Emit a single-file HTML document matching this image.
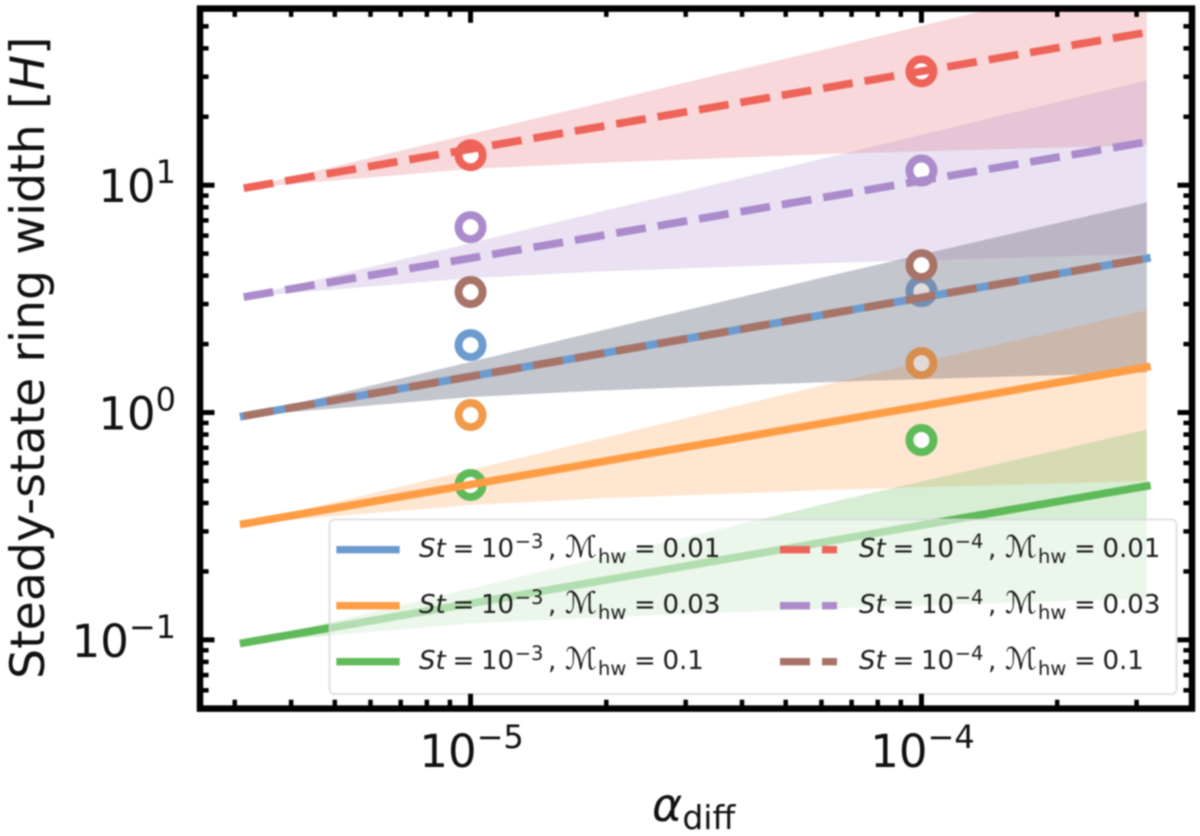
<!DOCTYPE html>
<html>
<head>
<meta charset="utf-8">
<style>
html,body{margin:0;padding:0;background:#fff;width:1200px;height:836px;overflow:hidden}
svg{display:block;font-family:"DejaVu Sans","Liberation Sans",sans-serif;filter:blur(0.8px)}
.leg{font-size:26px;fill:#1a1a1a}
.sm{font-size:19.5px}
.it{font-style:italic}
.cal{font-size:30px;font-style:italic}
</style>
</head>
<body>
<svg id="chart" width="1200" height="836" viewBox="0 0 1200 836" xmlns="http://www.w3.org/2000/svg">
  <defs><clipPath id="plot-clip"><rect x="200" y="8.3" width="992" height="700"/></clipPath></defs>
  <rect width="1200" height="836" fill="#fff"/>
  <g id="collections" clip-path="url(#plot-clip)"></g>
  <g id="lines" clip-path="url(#plot-clip)"></g>
  <g id="legend">
    <rect x="329.5" y="519.5" width="847" height="174.5" rx="5" fill="#fff" fill-opacity="0.53" stroke="#d6d6d6" stroke-opacity="0.7" stroke-width="2"/>

    <line x1="340" y1="549.7" x2="396" y2="549.7" stroke="#6c9bd0" stroke-width="7.3" stroke-linecap="square"/>
    <text class="leg" y="557"><tspan x="419" class="it">St</tspan><tspan x="452.5">=</tspan><tspan x="481">10</tspan><tspan x="514.7" y="548" class="sm">−3</tspan><tspan x="548" y="557">,</tspan><tspan x="565" class="cal">ℳ</tspan><tspan x="598" y="563" class="sm">hw</tspan><tspan x="634" y="557">=</tspan><tspan x="662.5">0.01</tspan></text>

    <line x1="340" y1="605.7" x2="396" y2="605.7" stroke="#ff9d45" stroke-width="7.3" stroke-linecap="square"/>
    <text class="leg" y="613"><tspan x="419" class="it">St</tspan><tspan x="452.5">=</tspan><tspan x="481">10</tspan><tspan x="514.7" y="604" class="sm">−3</tspan><tspan x="548" y="613">,</tspan><tspan x="565" class="cal">ℳ</tspan><tspan x="598" y="619" class="sm">hw</tspan><tspan x="634" y="613">=</tspan><tspan x="662.5">0.03</tspan></text>

    <line x1="340" y1="661.7" x2="396" y2="661.7" stroke="#5fba59" stroke-width="7.3" stroke-linecap="square"/>
    <text class="leg" y="669"><tspan x="419" class="it">St</tspan><tspan x="452.5">=</tspan><tspan x="481">10</tspan><tspan x="514.7" y="660" class="sm">−3</tspan><tspan x="548" y="669">,</tspan><tspan x="565" class="cal">ℳ</tspan><tspan x="598" y="675" class="sm">hw</tspan><tspan x="634" y="669">=</tspan><tspan x="662.5">0.1</tspan></text>

    <line x1="780" y1="549.7" x2="837" y2="549.7" stroke="#ee6459" stroke-width="7.3" stroke-dasharray="30 12"/>
    <text class="leg" y="557"><tspan x="859" class="it">St</tspan><tspan x="892.5">=</tspan><tspan x="921">10</tspan><tspan x="954.7" y="548" class="sm">−4</tspan><tspan x="988" y="557">,</tspan><tspan x="1005" class="cal">ℳ</tspan><tspan x="1038" y="563" class="sm">hw</tspan><tspan x="1074" y="557">=</tspan><tspan x="1102.5">0.01</tspan></text>

    <line x1="780" y1="605.7" x2="837" y2="605.7" stroke="#ab8bcb" stroke-width="7.3" stroke-dasharray="30 12"/>
    <text class="leg" y="613"><tspan x="859" class="it">St</tspan><tspan x="892.5">=</tspan><tspan x="921">10</tspan><tspan x="954.7" y="604" class="sm">−4</tspan><tspan x="988" y="613">,</tspan><tspan x="1005" class="cal">ℳ</tspan><tspan x="1038" y="619" class="sm">hw</tspan><tspan x="1074" y="613">=</tspan><tspan x="1102.5">0.03</tspan></text>

    <line x1="780" y1="661.7" x2="837" y2="661.7" stroke="#a87468" stroke-width="7.3" stroke-dasharray="30 12"/>
    <text class="leg" y="669"><tspan x="859" class="it">St</tspan><tspan x="892.5">=</tspan><tspan x="921">10</tspan><tspan x="954.7" y="660" class="sm">−4</tspan><tspan x="988" y="669">,</tspan><tspan x="1005" class="cal">ℳ</tspan><tspan x="1038" y="675" class="sm">hw</tspan><tspan x="1074" y="669">=</tspan><tspan x="1102.5">0.1</tspan></text>
  </g>
  <g id="ticks"></g>
  <rect x="200" y="8.6" width="992" height="700" fill="none" stroke="#000" stroke-width="6.5"/>
  <g id="tick-labels"></g>
  <text transform="translate(44,679) rotate(-90)" font-size="47.4" fill="#111">Steady-state ring width [<tspan font-style="italic">H</tspan>]</text>
  <text x="652" y="821" font-size="46" fill="#111"><tspan font-style="italic">α</tspan><tspan font-size="33" dy="8">diff</tspan></text>
</svg>
<script>
// ---- data ----
const lineAlpha = [3.14e-6, 3.16e-4];
const bandAlpha = [3.14e-6, 1e-5, 1.94e-5, 6.76e-5, 3.16e-4];
const ringAlpha = [1e-5, 1e-4];

const blueLine = [0.965, 4.77];
const blueUpper = [0.965, 1.67, 2.29, 4.14, 8.4];
const blueLower = [0.965, 1.17, 1.25, 1.37, 1.5];
const blueRings = [1.98, 3.42];

const orangeLine = [0.3236, 1.585];
const orangeUpper = [0.3236, 0.559, 0.768, 1.39, 2.82];
const orangeLower = [0.3236, 0.392, 0.419, 0.459, 0.5];
const orangeRings = [0.975, 1.65];

const greenLine = [0.097, 0.475];
const greenUpper = [0.097, 0.168, 0.23, 0.416, 0.84];
const greenLower = [0.097, 0.118, 0.1255, 0.138, 0.152];
const greenRings = [0.48, 0.757];

const redLine = [9.7, 47.0];
const redUpper = [9.7, 16.8, 23.0, 41.6, 87.2];
const redLower = [9.7, 11.8, 12.55, 13.8, 15.0];
const redRings = [13.55, 31.7];

const purpleLine = [3.22, 15.5];
const purpleUpper = [3.22, 5.56, 7.65, 13.8, 28.9];
const purpleLower = [3.22, 3.9, 4.17, 4.57, 4.98];
const purpleRings = [6.54, 11.6];

const brownLine = [0.965, 4.77];
const brownUpper = [0.965, 1.67, 2.29, 4.14, 8.4];
const brownLower = [0.965, 1.17, 1.25, 1.37, 1.5];
const brownRings = [3.39, 4.45];

const xMajorTicks = [1e-5, 1e-4];
const xMajorLabels = ['−5', '−4'];
const xMinorTicks = [3e-6, 4e-6, 5e-6, 6e-6, 7e-6, 8e-6, 9e-6, 2e-5, 3e-5, 4e-5, 5e-5, 6e-5, 7e-5, 8e-5, 9e-5, 2e-4, 3e-4];
const yMajorTicks = [10, 1, 0.1];
const yMajorLabels = ['1', '0', '−1'];
const yMinorTicks = [50, 40, 30, 20, 9, 8, 7, 6, 5, 4, 3, 2, 0.9, 0.8, 0.7, 0.6, 0.5, 0.4, 0.3, 0.2, 0.09, 0.08, 0.07, 0.06];

// ---- axis functions ----
const plotLeft = 200, plotRight = 1192, plotTop = 8.3, plotBottom = 708.3;
const xLogMin = -5.6, xLogMax = -3.4;
const yLogMin = Math.log10(0.05), yLogMax = Math.log10(60);
function xAxis(v) { return plotLeft + (Math.log10(v) - xLogMin) / (xLogMax - xLogMin) * (plotRight - plotLeft); }
function yAxis(v) { return plotBottom - (Math.log10(v) - yLogMin) / (yLogMax - yLogMin) * (plotBottom - plotTop); }

const NS = 'http://www.w3.org/2000/svg';
const collections = document.getElementById('collections');
const linesGroup = document.getElementById('lines');
const ticksGroup = document.getElementById('ticks');
const labelsGroup = document.getElementById('tick-labels');

function drawBand(key, color, upper, lower) {
  const top = bandAlpha.map((a, i) => xAxis(a).toFixed(2) + ',' + yAxis(upper[i]).toFixed(2));
  const bottom = bandAlpha.map((a, i) => xAxis(a).toFixed(2) + ',' + yAxis(lower[i]).toFixed(2)).reverse();
  const el = document.createElementNS(NS, 'polygon');
  
  
  el.setAttribute('points', top.concat(bottom).join(' '));
  el.setAttribute('fill', color);
  el.setAttribute('fill-opacity', '0.25');
  collections.appendChild(el);
}
function drawRings(key, color, rings) {
  rings.forEach((v, i) => {
    const el = document.createElementNS(NS, 'circle');
    
    
    el.setAttribute('cx', xAxis(ringAlpha[i]));
    el.setAttribute('cy', yAxis(v));
    el.setAttribute('r', 12);
    el.setAttribute('fill', '#fff');
    el.setAttribute('stroke', color);
    el.setAttribute('stroke-width', 8);
    collections.appendChild(el);
  });
}
function drawLine(key, color, values, dashed) {
  const el = document.createElementNS(NS, 'line');
  
  
  el.setAttribute('x1', xAxis(lineAlpha[0]));
  el.setAttribute('y1', yAxis(values[0]));
  el.setAttribute('x2', xAxis(lineAlpha[1]));
  el.setAttribute('y2', yAxis(values[1]));
  el.setAttribute('stroke', color);
  el.setAttribute('stroke-width', 7.8);
  if (dashed) {
    el.setAttribute('stroke-dasharray', '30 12');
  } else {
    el.setAttribute('stroke-linecap', 'square');
  }
  linesGroup.appendChild(el);
}

drawBand('blue', '#5f93d0', blueUpper, blueLower);
drawRings('blue', '#6c9bd0', blueRings);
drawBand('orange', '#ff9d45', orangeUpper, orangeLower);
drawRings('orange', '#f09a4a', orangeRings);
drawBand('green', '#5fba59', greenUpper, greenLower);
drawRings('green', '#5fba59', greenRings);
drawBand('red', '#e2626a', redUpper, redLower);
drawRings('red', '#ee6459', redRings);
drawBand('purple', '#ab8bcb', purpleUpper, purpleLower);
drawRings('purple', '#ab8bcb', purpleRings);
drawBand('brown', '#8a6a5c', brownUpper, brownLower);
drawRings('brown', '#a87468', brownRings);

drawLine('blue', '#6c9bd0', blueLine, false);
drawLine('orange', '#ff9d45', orangeLine, false);
drawLine('green', '#5fba59', greenLine, false);
drawLine('red', '#ee6459', redLine, true);
drawLine('purple', '#ab8bcb', purpleLine, true);
drawLine('brown', '#a87468', brownLine, true);

function drawTick(name, x1, y1, x2, y2, width) {
  const el = document.createElementNS(NS, 'line');
  
  
  el.setAttribute('x1', x1);
  el.setAttribute('y1', y1);
  el.setAttribute('x2', x2);
  el.setAttribute('y2', y2);
  el.setAttribute('stroke', '#000');
  el.setAttribute('stroke-width', width);
  ticksGroup.appendChild(el);
}
xMajorTicks.forEach(v => {
  const x = xAxis(v);
  drawTick('x-major-tick-bottom', x, plotBottom, x, plotBottom - 14.5, 5);
  drawTick('x-major-tick-top', x, plotTop, x, plotTop + 14.5, 5);
});
xMinorTicks.forEach(v => {
  const x = xAxis(v);
  drawTick('x-minor-tick-bottom', x, plotBottom, x, plotBottom - 8.6, 4.5);
  drawTick('x-minor-tick-top', x, plotTop, x, plotTop + 8.6, 4.5);
});
yMajorTicks.forEach(v => {
  const y = yAxis(v);
  drawTick('y-major-tick-left', plotLeft, y, plotLeft + 14.5, y, 5);
  drawTick('y-major-tick-right', plotRight, y, plotRight - 14.5, y, 5);
});
yMinorTicks.forEach(v => {
  const y = yAxis(v);
  drawTick('y-minor-tick-left', plotLeft, y, plotLeft + 8.6, y, 4.5);
  drawTick('y-minor-tick-right', plotRight, y, plotRight - 8.6, y, 4.5);
});

function drawTickLabel(name, x, y, anchor, exponent) {
  const el = document.createElementNS(NS, 'text');
  
  
  el.setAttribute('x', x);
  el.setAttribute('y', y);
  el.setAttribute('text-anchor', anchor);
  el.setAttribute('font-size', 45);
  el.setAttribute('fill', '#111');
  el.appendChild(document.createTextNode('10'));
  const sup = document.createElementNS(NS, 'tspan');
  sup.setAttribute('dy', -19);
  sup.setAttribute('font-size', 32);
  sup.textContent = exponent;
  el.appendChild(sup);
  labelsGroup.appendChild(el);
}
xMajorTicks.forEach((v, i) => drawTickLabel('x-tick-label', xAxis(v) + 1, 767, 'middle', xMajorLabels[i]));
yMajorTicks.forEach((v, i) => drawTickLabel('y-tick-label', 176, yAxis(v) + 17, 'end', yMajorLabels[i]));
</script>
</body>
</html>
